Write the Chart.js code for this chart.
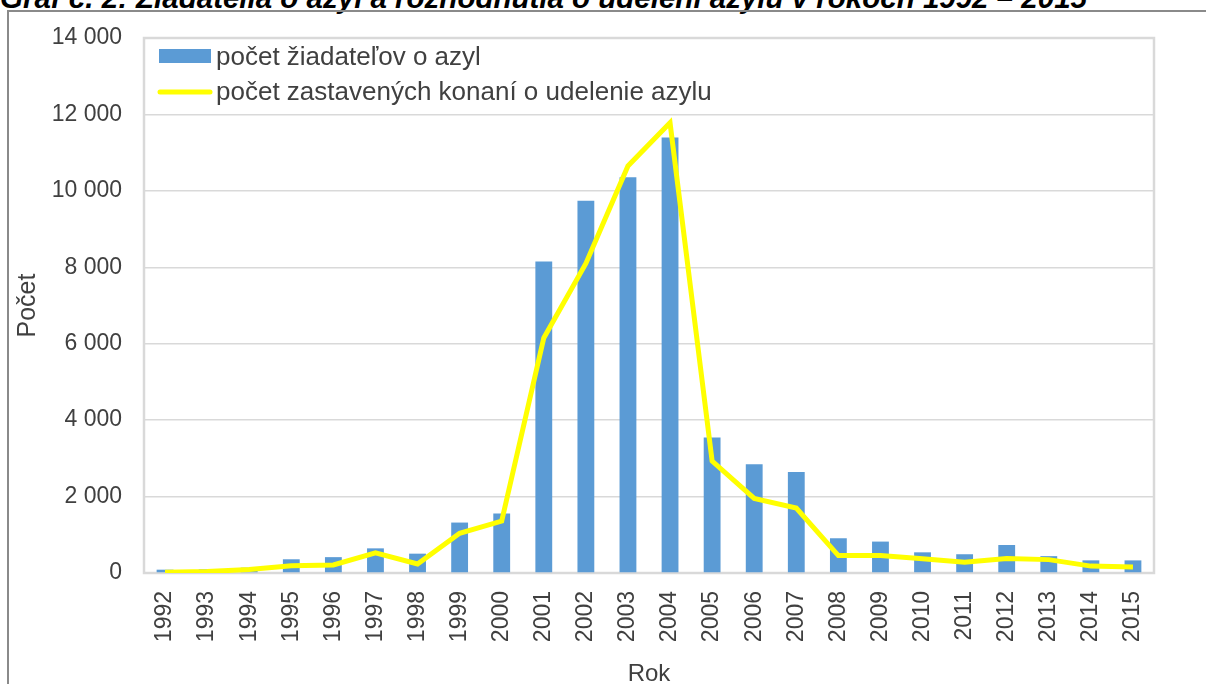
<!DOCTYPE html>
<html lang="sk">

<head>
    <meta charset="UTF-8" />
    <title>Graf č. 2</title>
    <script src="https://cdn.jsdelivr.net/npm/chart.js"></script>
    <style>
        html,
        body {
            margin: 0;
            padding: 0;
            background: #fff;
            overflow: hidden;
        }

        body {
            width: 1206px;
            height: 684px;
            position: relative;
            font-family: 'Liberation Sans', Arial, sans-serif;
        }

        .nadpis {
            position: absolute;
            left: 0px;
            top: -17px;
            font-size: 29.5px;
            line-height: 29.5px;
            font-weight: bold;
            font-style: italic;
            white-space: nowrap;
            color: #000;
        }

        .ramcek {
            position: absolute;
            left: 7px;
            top: 10px;
            width: 1300px;
            height: 800px;
            border: 2px solid #8a8a8a;
        }

        #graf {
            position: absolute;
            left: 0;
            top: 0;
        }
    </style>
</head>

<body>
    <div class="nadpis">Graf č. 2: Žiadatelia o azyl a rozhodnutia o udelení azylu v rokoch 1992 – 2015</div>
    <div class="ramcek"></div>
    <canvas id="graf" width="1206" height="700"></canvas>

    <script>
        // roky
        const roky = ['1992', '1993', '1994', '1995', '1996', '1997', '1998', '1999', '2000', '2001', '2002', '2003',
            '2004', '2005', '2006', '2007', '2008', '2009', '2010', '2011', '2012', '2013', '2014', '2015'];

        // počet žiadateľov o azyl (stĺpce)
        const ziadatelia = [87, 96, 140, 359, 415, 645, 506, 1320, 1556, 8151, 9743, 10358,
            11395, 3549, 2849, 2642, 909, 822, 541, 491, 732, 441, 331, 330];

        // počet zastavených konaní (čiara)
        const zastavene = [20, 40, 90, 190, 210, 530, 235, 1040, 1360, 6150, 8100, 10650,
            11780, 2930, 1950, 1700, 455, 460, 370, 280, 380, 350, 180, 160];

        // popisky osi y
        const osY = [0, 2000, 4000, 6000, 8000, 10000, 12000, 14000];

        const sedaText = '#404040';
        const pismo = "'Liberation Sans', Arial, sans-serif";
        Chart.defaults.font.family = pismo;
        Chart.defaults.color = sedaText;

        function formatCislo(v) {
            return String(v).replace(/\B(?=(\d{3})+(?!\d))/g, ' ');
        }

        // rámik plochy grafu a legenda vo vnútri
        const ramcekPlugin = {
            id: 'ramcek',
            beforeDatasetsDraw(chart) {
                const ctx = chart.ctx;
                const a = chart.chartArea;
                ctx.save();
                ctx.strokeStyle = '#d9d9d9';
                ctx.lineWidth = 2.5;
                ctx.strokeRect(a.left, a.top, a.right - a.left, a.bottom - a.top);
                ctx.restore();
            },
            afterDatasetsDraw(chart) {
                const ctx = chart.ctx;
                const a = chart.chartArea;
                const ds = chart.data.datasets;
                ctx.save();
                // stĺpec
                ctx.fillStyle = ds[0].backgroundColor;
                ctx.fillRect(a.left + 15, a.top + 11, 52, 14);
                // čiara
                ctx.strokeStyle = ds[1].borderColor;
                ctx.lineWidth = 5;
                ctx.lineCap = 'round';
                ctx.beginPath();
                ctx.moveTo(a.left + 16, a.top + 54);
                ctx.lineTo(a.left + 66, a.top + 54);
                ctx.stroke();
                ctx.fillStyle = sedaText;
                ctx.font = '26px ' + pismo;
                ctx.textBaseline = 'middle';
                ctx.fillText(ds[0].label, a.left + 72, a.top + 20);
                ctx.fillText(ds[1].label, a.left + 72, a.top + 55);
                ctx.restore();
            }
        };

        const ctx = document.getElementById('graf');
        new Chart(ctx, {
            type: 'bar',
            data: {
                labels: roky,
                datasets: [{
                    type: 'bar',
                    label: 'počet žiadateľov o azyl',
                    data: ziadatelia,
                    backgroundColor: '#5b9bd5',
                    barPercentage: 0.4,
                    categoryPercentage: 1,
                    order: 1
                }, {
                    type: 'line',
                    label: 'počet zastavených konaní o udelenie azylu',
                    data: zastavene,
                    borderColor: '#ffff00',
                    borderWidth: 5,
                    borderJoinStyle: 'miter',
                    pointRadius: 0,
                    tension: 0,
                    order: 0
                }]
            },
            options: {
                responsive: false,
                animation: false,
                layout: { padding: { left: 13, top: 38, right: 52, bottom: 11 } },
                plugins: {
                    legend: { display: false },
                    tooltip: { enabled: false }
                },
                scales: {
                    x: {
                        grid: { display: false },
                        border: { display: false },
                        ticks: {
                            autoSkip: false,
                            maxRotation: 90,
                            minRotation: 90,
                            padding: 10,
                            font: { size: 23 }
                        },
                        title: {
                            display: true,
                            text: 'Rok',
                            padding: 0,
                            font: { size: 24 }
                        },
                        afterFit(scale) { scale.height = 116; }
                    },
                    y: {
                        min: 0,
                        max: 14000,
                        afterBuildTicks(scale) {
                            scale.ticks = osY.map(v => ({ value: v }));
                        },
                        grid: { color: '#d9d9d9', lineWidth: 1.5, drawTicks: false },
                        border: { display: false },
                        ticks: {
                            padding: 22,
                            font: { size: 23 },
                            callback: v => formatCislo(v)
                        },
                        title: {
                            display: true,
                            text: 'Počet',
                            padding: 0,
                            font: { size: 25 }
                        },
                        afterFit(scale) { scale.width = 131; }
                    }
                }
            },
            plugins: [ramcekPlugin]
        });
    </script>
</body>

</html>
